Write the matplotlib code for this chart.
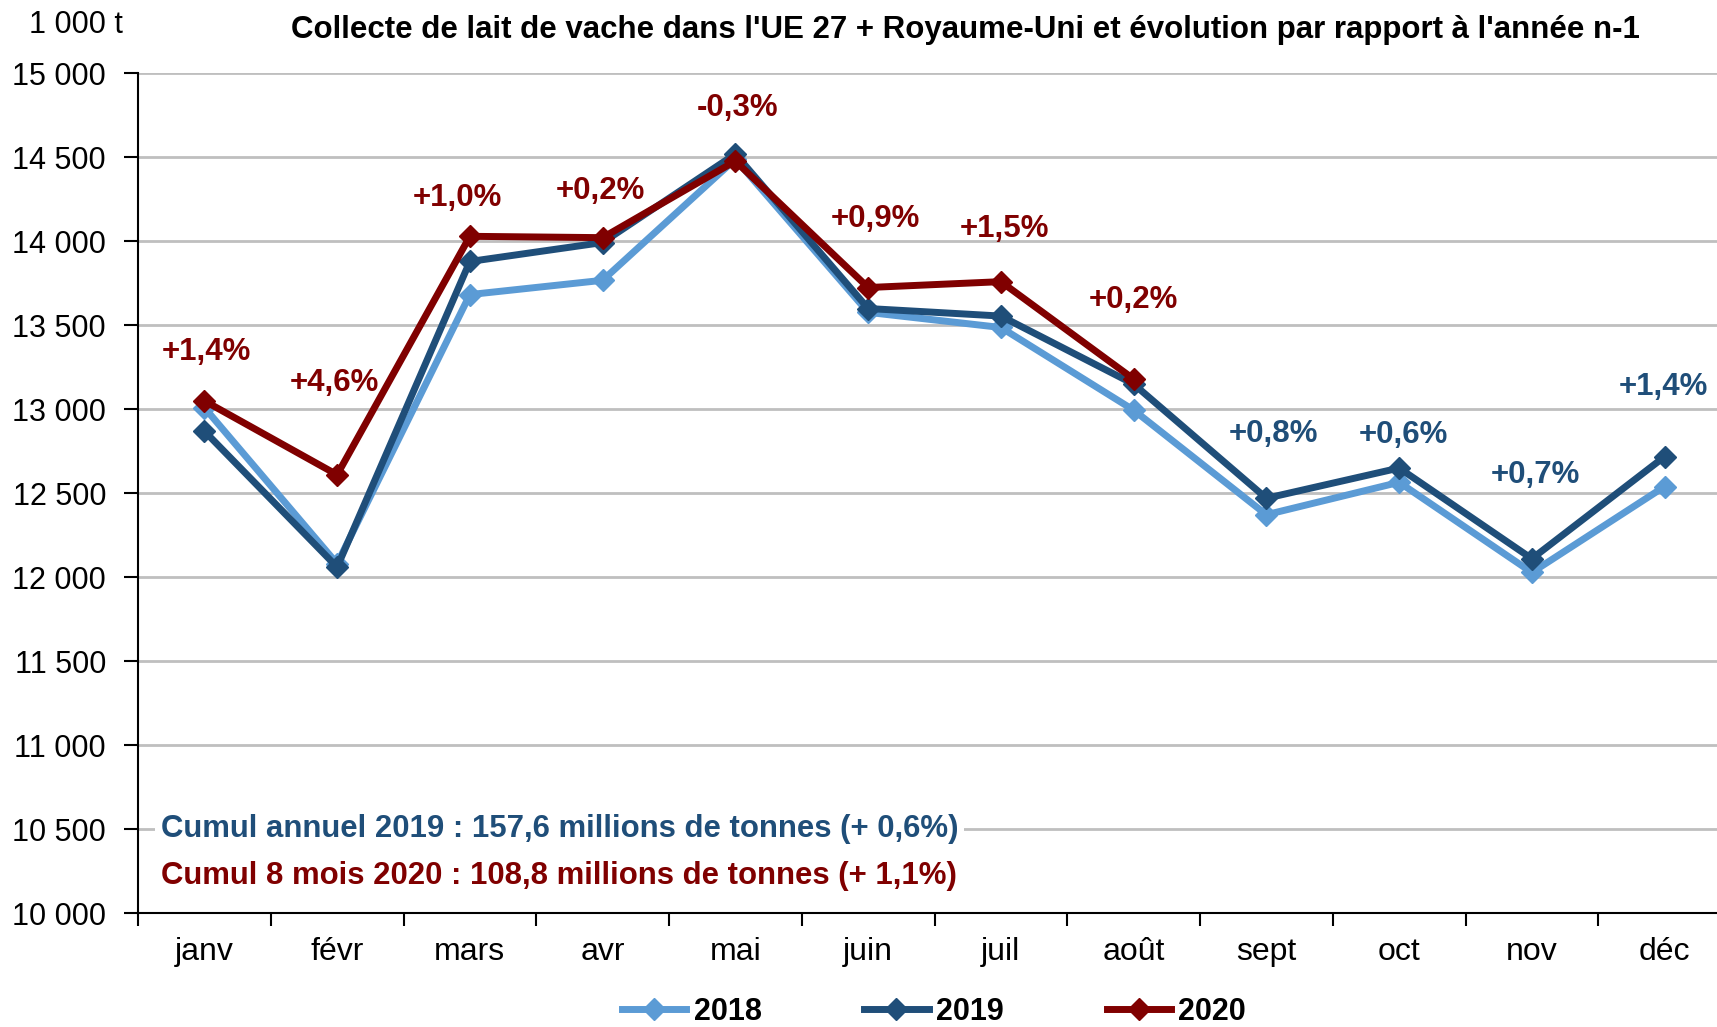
import matplotlib.pyplot as plt
import numpy as np

MONTHS = ['janv', 'févr', 'mars', 'avr', 'mai', 'juin', 'juil', 'août',
          'sept', 'oct', 'nov', 'déc']
V2018 = [13010, 12080, 13683, 13768, 14490, 13577, 13487, 12995,
         12372, 12565, 12028, 12540]
V2019 = [12870, 12060, 13880, 13993, 14520, 13600, 13555, 13150,
         12470, 12650, 12110, 12718]
V2020 = [13050, 12610, 14030, 14022, 14478, 13725, 13760, 13180]

# evolution labels: janv-août vs 2019 (2020 series), sept-déc vs 2018 (2019 series)
EVOL = ['+1,4%', '+4,6%', '+1,0%', '+0,2%', '-0,3%', '+0,9%', '+1,5%', '+0,2%',
        '+0,8%', '+0,6%', '+0,7%', '+1,4%']
# label offsets in pixels from the point
OFFS = [(2, 49), (-3, 92), (-12, 38), (-2, 47), (2, 53), (7, 69), (4, 53), (0, 79),
        (7, 64), (4, 33), (4, 84), (-1, 70)]

C18 = '#5B9BD5'
C19 = '#1F4E79'
C20 = '#800000'

plt.rcParams['font.family'] = ['Liberation Sans', 'DejaVu Sans']

fig = plt.figure(figsize=(17.17, 10.27), dpi=100)
ax = fig.add_axes([138 / 1717, 0.111, (1731 - 138) / 1717, 0.9285 - 0.111])

x = np.arange(12)
ax.plot(x, V2018, color=C18, lw=5, marker='D', ms=11, label='2018', zorder=3)
ax.plot(x, V2019, color=C19, lw=5, marker='D', ms=11, label='2019', zorder=4)
ax.plot(x[:len(V2020)], V2020, color=C20, lw=5, marker='D', ms=11, label='2020', zorder=5)

for i, lab in enumerate(EVOL):
    if i < len(V2020):
        y, c = V2020[i], C20
    else:
        y, c = V2019[i], C19
    ax.annotate(lab, (i, y), xytext=OFFS[i], textcoords='offset pixels',
                ha='center', va='center', fontsize=22.5, fontweight='bold', color=c)

ax.set_xlim(-0.5, 11.5)
ax.set_ylim(10000, 15000)
ax.set_yticks(np.arange(10000, 15001, 500))
ax.set_yticklabels([f'{v:,}'.replace(',', ' ') for v in range(10000, 15001, 500)])
ax.set_xticks(np.arange(-0.5, 12, 1))
ax.set_xticklabels([])
ax.set_xticks(x, minor=True)
ax.set_xticklabels(MONTHS, minor=True)
ax.tick_params(axis='x', which='major', length=9, width=1.5, direction='out')
ax.tick_params(axis='x', which='minor', length=0, pad=17, labelsize=23)
ax.tick_params(axis='y', length=10, width=1.5, pad=13, labelsize=22)

ax.grid(axis='y', color='#BFBFBF', lw=2)
ax.set_axisbelow(True)
for s in ['top', 'right']:
    ax.spines[s].set_visible(False)
for s in ['left', 'bottom']:
    ax.spines[s].set_linewidth(1.5)

ax.text(-0.33, 10500, 'Cumul annuel 2019 : 157,6 millions de tonnes (+ 0,6%)',
        fontsize=22.4, fontweight='bold', color=C19, va='center', ha='left',
        bbox=dict(facecolor='white', edgecolor='none', pad=4), zorder=6)
ax.text(-0.33, 10222, 'Cumul 8 mois 2020 : 108,8 millions de tonnes (+ 1,1%)',
        fontsize=22.4, fontweight='bold', color=C20, va='center', ha='left', zorder=6)

fig.text(965 / 1717, 0.971,
         "Collecte de lait de vache dans l'UE 27 + Royaume-Uni et évolution par rapport à l'année n-1",
         ha='center', va='center', fontsize=22.5, fontweight='bold')
fig.text(76 / 1717, 1 - 25 / 1027, '1 000 t', ha='center', va='center', fontsize=22)

leg = fig.legend(loc='center', bbox_to_anchor=(934 / 1717, 0.0145), ncol=3, frameon=False,
                 prop={'size': 22, 'weight': 'bold'}, handlelength=2.1,
                 columnspacing=3.36, handletextpad=0.25, borderpad=0.1)

fig.savefig('out.png', dpi=100)
